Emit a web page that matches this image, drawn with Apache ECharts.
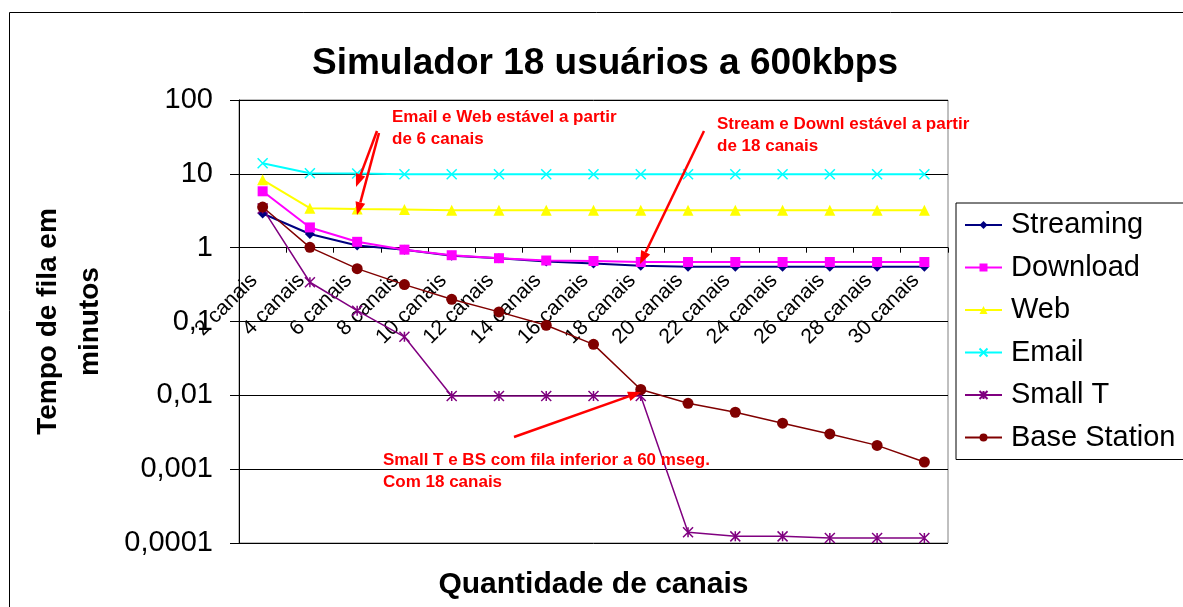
<!DOCTYPE html>
<html>
<head>
<meta charset="utf-8">
<title>Simulador 18 usuários a 600kbps</title>
<script src="https://cdn.jsdelivr.net/npm/echarts@6.0.0/dist/echarts.min.js"></script>
<style>
  html, body { margin: 0; padding: 0; background: #fff; }
  #chart { width: 1183px; height: 607px; }
</style>
</head>
<body>
<div id="chart"></div>
<script>
const FONT = "'Liberation Sans', Arial, sans-serif"

const categories = [
  '2 canais', '4 canais', '6 canais', '8 canais', '10 canais', '12 canais', '14 canais', '16 canais',
  '18 canais', '20 canais', '22 canais', '24 canais', '26 canais', '28 canais', '30 canais',
]

// tempo de fila (minutos)
const streaming = [2.9, 1.53, 1.07, 0.94, 0.78, 0.72, 0.65, 0.61, 0.57, 0.55, 0.55, 0.55, 0.55, 0.55, 0.55]
const download = [5.8, 1.88, 1.2, 0.94, 0.79, 0.72, 0.67, 0.66, 0.64, 0.64, 0.64, 0.64, 0.64, 0.64, 0.64]
const web = [8.3, 3.43, 3.33, 3.3, 3.2, 3.2, 3.2, 3.2, 3.2, 3.2, 3.2, 3.2, 3.2, 3.2, 3.2]
const email = [13.9, 10.2, 10.1, 9.9, 9.9, 9.9, 9.9, 9.9, 9.9, 9.9, 9.9, 9.9, 9.9, 9.9, 9.9]
const smallT = [3.4, 0.34, 0.14, 0.062, 0.0098, 0.0098, 0.0098, 0.0098, 0.0098, 0.00014, 0.000123, 0.000123, 0.000117, 0.000117, 0.000117]
const baseStation = [3.55, 1.01, 0.52, 0.316, 0.2, 0.135, 0.089, 0.049, 0.012, 0.0078, 0.0059, 0.0042, 0.003, 0.0021, 0.00125]

const yMin = 0.0001
const yMax = 100

const CROSS = 'path://M0,0L10,10M10,0L0,10'
const STAR = 'path://M0,0L10,10M10,0L0,10M5,0L5,10'

function arrow(x1, y1, x2, y2) {
  const ang = Math.atan2(y2 - y1, x2 - x1)
  const len = 13
  const half = 5
  const bx = x2 - len * Math.cos(ang)
  const by = y2 - len * Math.sin(ang)
  return [
    {
      type: 'line',
      shape: { x1, y1, x2: bx, y2: by },
      style: { stroke: '#ff0000', lineWidth: 2.5 },
      z: 50,
    },
    {
      type: 'polygon',
      shape: {
        points: [
          [x2, y2],
          [bx + half * Math.sin(ang), by - half * Math.cos(ang)],
          [bx - half * Math.sin(ang), by + half * Math.cos(ang)],
        ],
      },
      style: { fill: '#ff0000' },
      z: 50,
    },
  ]
}

function note(x, y, text) {
  return {
    type: 'text',
    x,
    y,
    z: 50,
    style: {
      text,
      fill: '#ff0000',
      fontSize: 17,
      fontWeight: 'bold',
      fontFamily: FONT,
      lineHeight: 22,
    },
  }
}

function lineSeries(name, data, color, symbol, size, width, stroked) {
  return {
    name,
    type: 'line',
    data,
    symbol,
    symbolSize: size,
    showAllSymbol: true,
    lineStyle: { color, width },
    itemStyle: {
      color,
      borderColor: color,
      borderWidth: stroked ? 1.5 : 0,
    },
    emphasis: { disabled: true },
  }
}

const chart = echarts.init(document.getElementById('chart'))

chart.setOption({
  animation: false,
  backgroundColor: '#fff',
  textStyle: { fontFamily: FONT },
  title: {
    text: 'Simulador 18 usuários a 600kbps',
    left: 600,
    top: 40,
    textAlign: 'center',
    textStyle: { fontSize: 37, fontWeight: 'bold', color: '#000', fontFamily: FONT },
  },
  grid: {
    left: 239,
    right: 235,
    top: 100,
    bottom: 64,
    show: true,
    backgroundColor: '#fff',
    borderColor: '#808080',
    borderWidth: 1,
  },
  legend: {
    orient: 'vertical',
    left: 956,
    top: 203,
    padding: [5, 12, 5, 8],
    itemGap: 8.5,
    itemWidth: 37,
    itemHeight: 10,
    borderColor: '#000',
    borderWidth: 1,
    backgroundColor: '#fff',
    selectedMode: false,
    textStyle: { fontSize: 29, color: '#000', fontFamily: FONT, lineHeight: 34, padding: [0, 0, 0, 4] },
  },
  xAxis: {
    type: 'category',
    data: categories,
    boundaryGap: true,
    offset: -295.3,
    name: 'Quantidade de canais',
    nameLocation: 'middle',
    nameGap: 322,
    nameTextStyle: { fontSize: 30, fontWeight: 'bold', color: '#000', fontFamily: FONT },
    axisLine: { onZero: false, lineStyle: { color: '#000', width: 1 } },
    axisTick: { show: true, length: 5, lineStyle: { color: '#000' } },
    axisLabel: {
      interval: 0,
      rotate: 45,
      margin: 21,
      padding: [0, 12, 0, 0],
      fontSize: 21,
      color: '#000',
      fontFamily: FONT,
    },
    splitLine: { show: false },
  },
  yAxis: {
    type: 'log',
    logBase: 10,
    min: yMin,
    max: yMax,
    name: 'Tempo de fila em\nminutos',
    nameLocation: 'middle',
    nameGap: 128,
    nameTextStyle: { fontSize: 28, fontWeight: 'bold', color: '#000', fontFamily: FONT, lineHeight: 42 },
    axisLine: { show: true, lineStyle: { color: '#000', width: 1 } },
    axisTick: { show: true, length: 9, lineStyle: { color: '#000' } },
    axisLabel: {
      margin: 26,
      fontSize: 29,
      color: '#000',
      fontFamily: FONT,
      formatter: (v) => String(+v.toPrecision(4)).replace('.', ','),
    },
    splitLine: { show: true, lineStyle: { color: '#000', width: 1 } },
  },
  series: [
    lineSeries('Streaming', streaming, '#000080', 'diamond', 10, 2, false),
    lineSeries('Download', download, '#ff00ff', 'rect', 10, 2, false),
    lineSeries('Web', web, '#ffff00', 'triangle', 11, 2, false),
    lineSeries('Email', email, '#00ffff', CROSS, 10, 2, true),
    lineSeries('Small T', smallT, '#800080', STAR, 10, 1.5, true),
    lineSeries('Base Station', baseStation, '#800000', 'circle', 11, 1.5, false),
  ],
  graphic: [
    {
      type: 'rect',
      shape: { x: 9.5, y: 12.5, width: 1300, height: 700 },
      style: { fill: 'none', stroke: '#000', lineWidth: 1 },
      silent: true,
      z: 100,
    },
    note(392, 106, 'Email e Web estável a partir\nde 6 canais'),
    note(717, 113, 'Stream e Downl estável a partir\nde 18 canais'),
    note(383, 449, 'Small T e BS com fila inferior a 60 mseg.\nCom 18 canais'),
    ...arrow(377, 131, 356, 187),
    ...arrow(379, 133, 357, 215),
    ...arrow(704, 131, 640, 264),
    ...arrow(514, 437, 641, 392),
  ],
})
</script>
</body>
</html>
